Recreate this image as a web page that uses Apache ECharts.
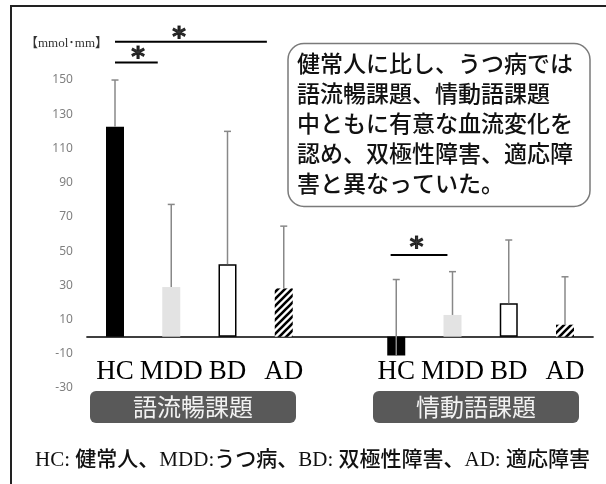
<!DOCTYPE html>
<html>
<head>
<meta charset="utf-8">
<script src="https://cdn.jsdelivr.net/npm/echarts@6/dist/echarts.min.js"></script>
<style>
html,body{margin:0;padding:0;background:#fff;}
#chart{width:606px;height:484px;}
</style>
</head>
<body>
<div id="chart"></div>
<script>
// ---- data ----
var categories = ['HC', 'MDD', 'BD', 'AD', '', 'HC', 'MDD', 'BD', 'AD'];
var groupNames = ['語流暢課題', '情動語課題'];
var fluencyMeans = [122.7, 29, 42.4, 28.2];
var fluencySD = [27.3, 48.3, 77.6, 36.4];
var emotionMeans = [-11, 12.7, 19.5, 7];
var emotionSD = [44.4, 25.3, 37, 28];
var yTickLabels = [-30, -10, 10, 30, 50, 70, 90, 110, 130, 150];
// significance brackets (category-index units on x, value units on y)
var bracketFrom = [0, 0, 4.9];
var bracketTo = [2.7, 0.76, 5.91];
var bracketLevel = [172.3, 160.3, 47.7];
var starX = [1.14, 0.41, 5.36];
var starY = [177.5, 165.5, 54.5];
var unitLabel = '【mmol･mm】';
var noteLines = ['健常人に比し、うつ病では', '語流暢課題、情動語課題', '中ともに有意な血流変化を', '認め、双極性障害、適応障', '害と異なっていた。'];
var footerText = 'HC: 健常人、MDD:うつ病、BD: 双極性障害、AD: 適応障害';

// ---- hatch pattern ----
function makeHatch() {
  var c = document.createElement('canvas');
  c.width = 7; c.height = 7;
  var g = c.getContext('2d');
  g.fillStyle = '#fff'; g.fillRect(0, 0, 7, 7);
  g.strokeStyle = '#000'; g.lineWidth = 2.6;
  g.beginPath();
  g.moveTo(-1, 8); g.lineTo(8, -1);
  g.moveTo(-2, 2); g.lineTo(2, -2);
  g.moveTo(5, 9); g.lineTo(9, 5);
  g.stroke();
  return c;
}
var hatch = { image: makeHatch(), repeat: 'repeat' };

var styles = [
  { color: '#000' },
  { color: '#e3e3e3' },
  { color: '#fff', borderColor: '#000', borderWidth: 1.5 },
  { color: hatch }
];

var barData = [];
var errData = [];
function addGroup(means, sds, offset) {
  for (var i = 0; i < means.length; i++) {
    barData.push({ value: means[i], itemStyle: styles[i] });
    errData.push([offset + i, means[i], sds[i]]);
  }
}
addGroup(fluencyMeans, fluencySD, 0);
barData.push('-');
addGroup(emotionMeans, emotionSD, 5);

var bracketSeries = bracketFrom.map(function (f, i) {
  return {
    type: 'line', xAxisIndex: 1, yAxisIndex: 0, silent: true,
    showSymbol: false, symbol: 'none',
    lineStyle: { color: '#000', width: 2 },
    data: [[f, bracketLevel[i]], [bracketTo[i], bracketLevel[i]]],
    z: 5
  };
});

var yMin = -30, yMax = 180;
var gridTop = 28.7, gridBottom = 96, H = 484;
var plotH = H - gridTop - gridBottom;
var zeroOffset = -plotH * (0 - yMin) / (yMax - yMin);

var chart = echarts.init(document.getElementById('chart'), null, { renderer: 'canvas' });
chart.setOption({
  animation: false,
  backgroundColor: '#fff',
  grid: { left: 86.875, right: 12.875, top: gridTop, bottom: gridBottom, containLabel: false },
  xAxis: [
    {
      type: 'category', data: categories, position: 'bottom', offset: zeroOffset,
      axisLine: { onZero: false, lineStyle: { color: '#000', width: 1.5 } },
      axisTick: { show: false },
      axisLabel: { interval: 0, margin: 22, color: '#000', fontSize: 27, fontFamily: '"Liberation Serif", serif' },
      splitLine: { show: false }
    },
    { type: 'value', min: -0.5, max: 8.5, show: false }
  ],
  yAxis: {
    type: 'value', min: yMin, max: yMax, interval: 10,
    axisLine: { show: false }, axisTick: { show: false }, splitLine: { show: false },
    axisLabel: {
      margin: 14, color: '#808080', fontSize: 12, fontFamily: '"Noto Sans", sans-serif',
      formatter: function (v) { return yTickLabels.indexOf(v) >= 0 ? String(v) : ''; }
    }
  },
  series: [
    { type: 'bar', data: barData, barWidth: 18, z: 2 },
    {
      type: 'custom', data: errData, encode: { x: 0, y: 1 }, z: 4,
      renderItem: function (params, api) {
        var x = api.value(0), m = api.value(1), e = api.value(2);
        var p0 = api.coord([x, m]);
        var p1 = api.coord([x, m + e]);
        var st = { stroke: '#888', lineWidth: 1.5 };
        return {
          type: 'group', children: [
            { type: 'line', shape: { x1: p0[0], y1: p0[1], x2: p1[0], y2: p1[1] }, style: st },
            { type: 'line', shape: { x1: p1[0] - 3.5, y1: p1[1], x2: p1[0] + 3.5, y2: p1[1] }, style: st }
          ]
        };
      }
    },
    {
      type: 'scatter', xAxisIndex: 1, yAxisIndex: 0, symbolSize: 2,
      itemStyle: { color: 'rgba(0,0,0,0)' }, silent: true, z: 6,
      data: starX.map(function (x, i) { return [x, starY[i]]; }),
      label: { show: true, position: 'inside', formatter: '*', color: '#000', fontSize: 26, fontWeight: 'bold', fontFamily: '"DejaVu Sans", sans-serif', textBorderColor: '#000', textBorderWidth: 1, offset: [0, 6] }
    }
  ].concat(bracketSeries),
  graphic: [
    { type: 'rect', shape: { x: 11, y: 6, width: 700, height: 600 }, style: { fill: 'none', stroke: '#222', lineWidth: 2 }, z: 100 },
    { type: 'text', x: 25, y: 44, style: { text: unitLabel, font: '13px "Liberation Serif", "Noto Sans CJK JP", serif', fill: '#333', verticalAlign: 'middle' } },
    { type: 'rect', shape: { x: 288, y: 43.5, width: 302, height: 163, r: 16 }, style: { fill: '#fff', stroke: '#7a7a7a', lineWidth: 1.5 }, z: 50 },
    { type: 'text', x: 297, y: 48.3, z: 51, style: { text: noteLines.join('\n'), font: '500 23px "Noto Sans CJK JP", sans-serif', lineHeight: 30, fill: '#111', verticalAlign: 'top' } },
    { type: 'rect', shape: { x: 90, y: 391, width: 206, height: 32, r: 6 }, style: { fill: '#595959' }, z: 50 },
    { type: 'text', x: 193, y: 407, z: 51, style: { text: groupNames[0], font: '24px "Noto Sans CJK JP", sans-serif', fill: '#f2f2f2', align: 'center', verticalAlign: 'middle' } },
    { type: 'rect', shape: { x: 373, y: 391, width: 206, height: 32, r: 6 }, style: { fill: '#595959' }, z: 50 },
    { type: 'text', x: 476, y: 407, z: 51, style: { text: groupNames[1], font: '24px "Noto Sans CJK JP", sans-serif', fill: '#f2f2f2', align: 'center', verticalAlign: 'middle' } },
    { type: 'text', x: 312.5, y: 460, style: { text: footerText, font: '500 21px "Liberation Serif", "Noto Sans CJK JP", serif', fill: '#111', align: 'center', verticalAlign: 'middle' } }
  ]
});
</script>
</body>
</html>
